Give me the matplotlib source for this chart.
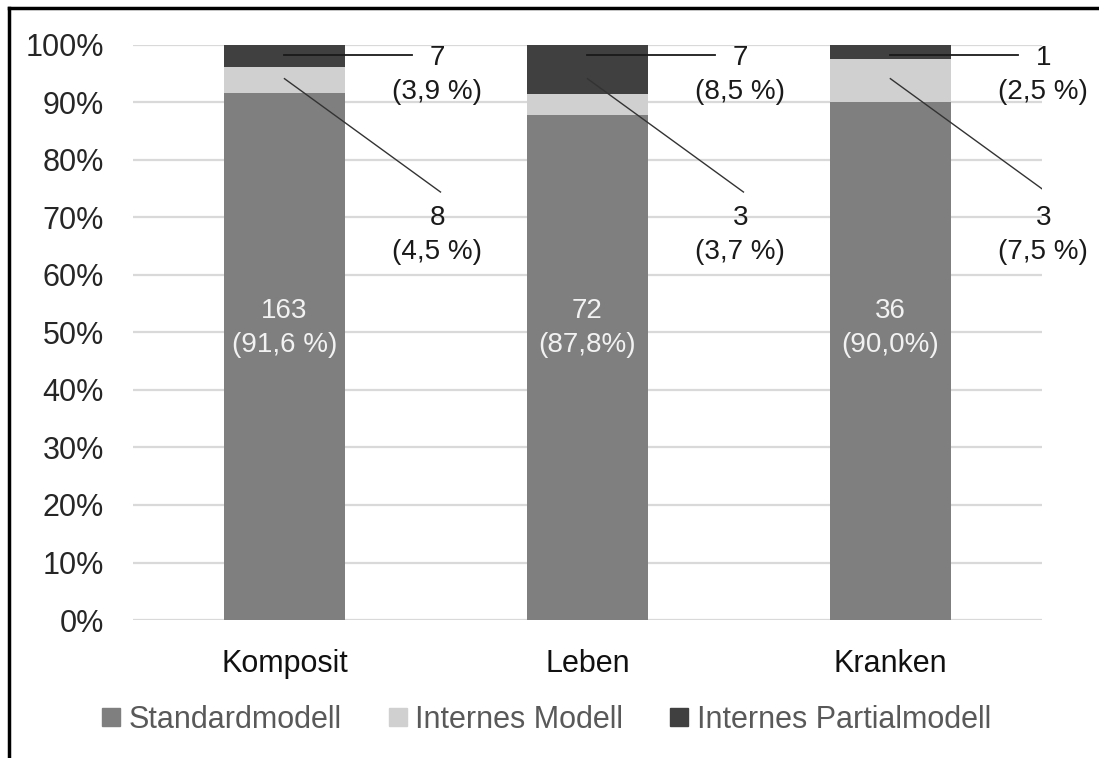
import matplotlib.pyplot as plt
from matplotlib.lines import Line2D
import numpy as np

plt.rcParams['font.family'] = ['Liberation Sans', 'DejaVu Sans']

# Daten: Anzahl Unternehmen und Anteile je Sparte
sparten = ["Komposit", "Leben", "Kranken"]
serien = ["Standardmodell", "Internes Modell", "Internes Partialmodell"]
anzahl_standard = [163, 72, 36]
anzahl_intern = [8, 3, 3]
anzahl_partial = [7, 7, 1]
anteil_standard = [91.6, 87.8, 90.0]
anteil_intern = [4.5, 3.7, 7.5]
anteil_partial = [3.9, 8.5, 2.5]
text_standard = ["(91,6 %)", "(87,8%)", "(90,0%)"]
text_intern = ["(4,5 %)", "(3,7 %)", "(7,5 %)"]
text_partial = ["(3,9 %)", "(8,5 %)", "(2,5 %)"]

farben = ["#7f7f7f", "#d0d0d0", "#404040"]

fig = plt.figure(figsize=(10.99, 7.58), dpi=100)
ax = fig.add_axes([0.121, 0.182, 0.827, 0.759])

x = np.arange(len(sparten))
breite = 0.4
s = np.array(anteil_standard)
i = np.array(anteil_intern)
p = np.array(anteil_partial)

ax.bar(x, s, breite, color=farben[0], zorder=2)
ax.bar(x, i, breite, bottom=s, color=farben[1], zorder=2)
ax.bar(x, p, breite, bottom=s + i, color=farben[2], zorder=2)

ax.set_xlim(-0.5, 2.5)
ax.set_ylim(0, 100)
ax.set_yticks(np.arange(0, 101, 10))
ax.set_yticklabels([f"{v}%" for v in range(0, 101, 10)], fontsize=22, color="#262626")
ax.set_xticks(x)
ax.set_xticklabels(sparten, fontsize=22, color="#111111")
ax.tick_params(length=0, axis='y', pad=21)
ax.tick_params(length=0, axis='x', pad=21)
ax.grid(axis='y', color="#d9d9d9", linewidth=1.6, zorder=0)
for sp in ax.spines.values():
    sp.set_visible(False)

for k in range(len(sparten)):
    # Beschriftung im Balken
    ax.text(x[k], 50.7, f"{anzahl_standard[k]}\n{text_standard[k]}", ha='center', va='center',
            fontsize=20, color="#f2f2f2", linespacing=1.4, zorder=3)

    # Partialmodell: waagerechte Führungslinie
    ax.plot([x[k], x[k] + 0.42], [98.3, 98.3], color="#1a1a1a", lw=1.3, zorder=3)
    ax.text(x[k] + 0.505, 94.8, f"{anzahl_partial[k]}\n{text_partial[k]}", ha='center', va='center',
            fontsize=20, color="#1a1a1a", linespacing=1.4, zorder=3)

    # Internes Modell: schräge Führungslinie
    ax.plot([x[k], x[k] + 0.515], [94.1, 74.4], color="#333333", lw=1.0, zorder=3)
    ax.text(x[k] + 0.505, 66.9, f"{anzahl_intern[k]}\n{text_intern[k]}", ha='center', va='center',
            fontsize=20, color="#1a1a1a", linespacing=1.4, zorder=3)

handles = [Line2D([], [], marker='s', linestyle='', markersize=13, color=c) for c in farben]
fig.legend(handles, serien, loc='center', bbox_to_anchor=(0.497, 0.05), ncol=3, frameon=False,
           fontsize=22, labelcolor="#595959", handlelength=0.65, handletextpad=0.25,
           columnspacing=1.5)

# Rahmen oben und links
fig.add_artist(Line2D([0.008, 0.008], [0, 0.99], transform=fig.transFigure, color='black', lw=2.5))
fig.add_artist(Line2D([0.008, 1.0], [0.99, 0.99], transform=fig.transFigure, color='black', lw=2.5))

fig.savefig("out.png", dpi=100)
